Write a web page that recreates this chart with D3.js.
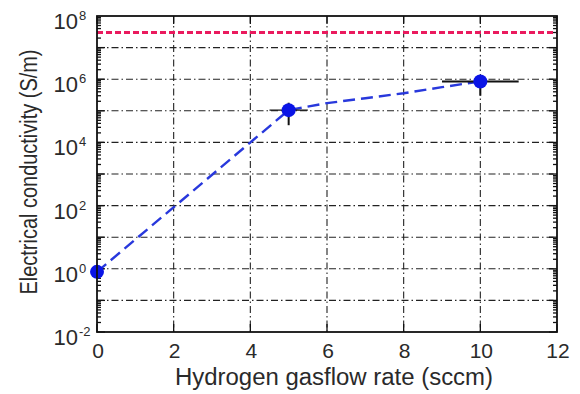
<!DOCTYPE html>
<meta charset="utf-8">
<style>
body { margin: 0; background: #fff; }
text { font-family: "Liberation Sans", Arial, sans-serif; fill: #2a2a2a; }
.grid line { stroke: #222; stroke-width: 1.1; stroke-dasharray: 7,3,1.5,3; }
</style>
<svg width="580" height="394"></svg>
<script src="https://d3js.org/d3.v7.min.js"></script>
<script>
// measured points
var flowRate = [0, 5, 10];
var conductivity = [0.8, 1.05e5, 8.5e5];
var errLow = [null, 3.5e4, 3e5];
var errHigh = [null, 1.8e5, 1.3e6];
var xErr = [0, 0.5, 1];

// dashed trend line
var trendX = [0, 5, 6, 7, 8, 9, 10];
var trendY = [0.8, 1.05e5, 1.75e5, 2.5e5, 3.6e5, 5.6e5, 8.5e5];

// red reference level
var refLevel = 3e7;

var xTicks = [0, 2, 4, 6, 8, 10, 12];
var yLabelExp = [-2, 0, 2, 4, 6, 8];

var svg = d3.select("svg"),
    pLeft = 97, pRight = 557, pTop = 16, pBottom = 332;

var x = d3.scaleLinear().domain([0, 12]).range([pLeft, pRight]);
var y = d3.scaleLog().domain([1e-2, 1e8]).range([pBottom, pTop]);

// grid
var grid = svg.append("g").attr("class", "grid");
grid.selectAll(".gx").data([2, 4, 6, 8, 10]).enter().append("line")
    .attr("x1", function(d) { return x(d); }).attr("x2", function(d) { return x(d); })
    .attr("y1", pTop).attr("y2", pBottom);
grid.selectAll(".gy").data(d3.range(-1, 8)).enter().append("line")
    .attr("x1", pLeft).attr("x2", pRight)
    .attr("y1", function(d) { return y(Math.pow(10, d)); })
    .attr("y2", function(d) { return y(Math.pow(10, d)); });

// ticks inside the box
var minor = [];
for (var e = -2; e < 8; e++) for (var m = 1; m < 10; m++) minor.push(m * Math.pow(10, e));
[pLeft, pRight].forEach(function(px) {
  var dir = px === pLeft ? 1 : -1;
  svg.append("g").selectAll("line").data(minor).enter().append("line")
      .attr("x1", px).attr("x2", function(d) { return px + dir * (Math.abs(Math.log10(d) % 1) < 1e-9 ? 8 : 4); })
      .attr("y1", function(d) { return y(d); }).attr("y2", function(d) { return y(d); })
      .attr("stroke", "#111").attr("stroke-width", 1.3);
});
[pTop, pBottom].forEach(function(py) {
  var dir = py === pBottom ? -1 : 1;
  svg.append("g").selectAll("line").data(xTicks).enter().append("line")
      .attr("x1", function(d) { return x(d); }).attr("x2", function(d) { return x(d); })
      .attr("y1", py).attr("y2", py + dir * 8)
      .attr("stroke", "#111").attr("stroke-width", 1.3);
});

// red dashed level
svg.append("line")
    .attr("x1", pLeft).attr("x2", pRight)
    .attr("y1", y(refLevel)).attr("y2", y(refLevel))
    .attr("stroke", "#ea1a5e").attr("stroke-width", 3).attr("stroke-dasharray", "6,3");

// trend line
var line = d3.line()
    .x(function(d, i) { return x(trendX[i]); })
    .y(function(d) { return y(d); });
svg.append("path").datum(trendY)
    .attr("d", line)
    .attr("fill", "none").attr("stroke", "#2838dc").attr("stroke-width", 2.4)
    .attr("stroke-dasharray", "12,6");

// error bars
flowRate.forEach(function(fx, i) {
  if (errLow[i] != null) {
    svg.append("line").attr("x1", x(fx)).attr("x2", x(fx))
        .attr("y1", y(errLow[i])).attr("y2", y(errHigh[i]))
        .attr("stroke", "#111").attr("stroke-width", 2);
  }
  if (xErr[i] > 0) {
    svg.append("line").attr("x1", x(fx - xErr[i])).attr("x2", x(fx + xErr[i]))
        .attr("y1", y(conductivity[i])).attr("y2", y(conductivity[i]))
        .attr("stroke", "#111").attr("stroke-width", i === 1 ? 1.4 : 2);
  }
});

// markers
svg.append("g").selectAll("circle").data(conductivity).enter().append("circle")
    .attr("cx", function(d, i) { return x(flowRate[i]); })
    .attr("cy", function(d) { return y(d); })
    .attr("r", 7)
    .attr("fill", "#0a14e6");

// box
svg.append("rect").attr("x", pLeft).attr("y", pTop)
    .attr("width", pRight - pLeft).attr("height", pBottom - pTop)
    .attr("fill", "none").attr("stroke", "#111").attr("stroke-width", 1.8);

// tick labels
svg.append("g").selectAll("text").data(xTicks).enter().append("text")
    .attr("x", function(d) { return x(d) + 1; }).attr("y", 358)
    .attr("text-anchor", "middle").attr("font-size", 21)
    .text(function(d) { return d; });

var yg = svg.append("g").selectAll("g").data(yLabelExp).enter().append("g");
yg.append("text")
    .attr("x", 78).attr("y", function(d) { return y(Math.pow(10, d)) + 13; })
    .attr("text-anchor", "end").attr("font-size", 22)
    .text("10");
yg.append("text")
    .attr("x", 79).attr("y", function(d) { return y(Math.pow(10, d)) + 4; })
    .attr("font-size", 13)
    .text(function(d) { return d; });

// axis titles
svg.append("text").attr("x", 334).attr("y", 385)
    .attr("text-anchor", "middle").attr("font-size", 23)
    .attr("textLength", 318).attr("lengthAdjust", "spacingAndGlyphs")
    .text("Hydrogen gasflow rate (sccm)");
svg.append("text")
    .attr("transform", "translate(37,172) rotate(-90)")
    .attr("text-anchor", "middle").attr("font-size", 23)
    .attr("textLength", 245).attr("lengthAdjust", "spacingAndGlyphs")
    .text("Electrical conductivity (S/m)");
</script>
